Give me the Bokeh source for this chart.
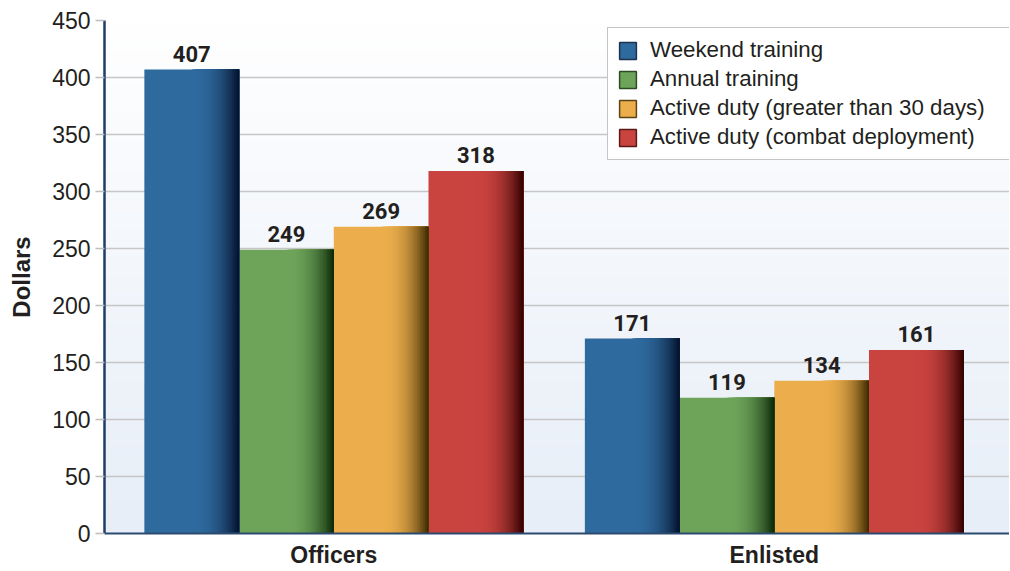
import numpy as np
from bokeh.plotting import figure
from bokeh.models import (ColumnDataSource, FixedTicker, Range1d, Legend, LegendItem, LabelSet)
from bokeh.core.properties import value
from bokeh.embed import file_html
from bokeh.resources import INLINE

# ---------------- data ----------------
categories = ["Officers", "Enlisted"]
series = ["Weekend training", "Annual training",
          "Active duty (greater than 30 days)", "Active duty (combat deployment)"]
weekend = [407, 171]
annual = [249, 119]
active30 = [269, 134]
combat = [318, 161]
values = [weekend, annual, active30, combat]
y_ticks = [0, 50, 100, 150, 200, 250, 300, 350, 400, 450]

base_colors = ["#2f6a9e", "#6ea45a", "#ecae4c", "#c9433f"]
dark_colors = ["#03102a", "#0a2606", "#3a2800", "#300000"]
legend_line = ["#1c3350", "#2e4a24", "#5a4515", "#5a1a18"]

# ---------------- figure ----------------
X0, X1 = -0.0205, 2.034
p = figure(width=1009, height=570, output_backend="svg", toolbar_location=None,
           x_range=Range1d(X0, X1), y_range=Range1d(0, 450),
           min_border_left=104, min_border_right=0, min_border_top=20, min_border_bottom=37)
p.outline_line_color = None
p.background_fill_color = "#ffffff"
p.border_fill_color = "#ffffff"

# background vertical gradient (white -> pale blue)
N = 200
img = np.empty((N, 1), dtype=np.uint32)
view = img.view(dtype=np.uint8).reshape((N, 1, 4))
top_c = np.array([255, 255, 255])
bot_c = np.array([231, 238, 248])
for i in range(N):
    t = i / (N - 1)  # 0 bottom -> 1 top
    c = bot_c + (top_c - bot_c) * t
    view[i, 0, 0:3] = c.astype(np.uint8)
    view[i, 0, 3] = 255
p.image_rgba(image=[img], x=X0, y=0, dw=X1 - X0, dh=450, level="image")

# ---------------- bars ----------------
w = 0.215
offsets = [-1.5 * w, -0.5 * w, 0.5 * w, 1.5 * w]
centers = [i + 0.5 for i in range(len(categories))]

def hex2rgb(h):
    h = h.lstrip("#")
    return np.array([int(h[k:k + 2], 16) for k in (0, 2, 4)], dtype=float)

def rgb2hex(c):
    c = np.clip(np.round(c), 0, 255).astype(int)
    return "#%02x%02x%02x" % tuple(c)

bx, btop, bcol = [], [], []
sx, stop, swid, scol = [], [], [], []
NS = 28
for s, vals in enumerate(values):
    b = hex2rgb(base_colors[s])
    d = hex2rgb(dark_colors[s])
    for ci, v in enumerate(vals):
        xc = centers[ci] + offsets[s]
        bx.append(xc); btop.append(v); bcol.append(base_colors[s])
        left = xc - w / 2
        right = xc + w / 2
        g0 = left + 0.5 * w
        sw = (right - g0) / NS
        for k in range(NS):
            st = g0 + k * sw
            t = (k + 0.5) / NS
            f = t ** 2.3
            sx.append((st + right) / 2)
            swid.append(right - st)
            stop.append(v)
            scol.append(rgb2hex(b + (d - b) * f))

bars = ColumnDataSource(dict(x=bx, top=btop, color=bcol))
strips = ColumnDataSource(dict(x=sx, top=stop, width=swid, color=scol))
p.vbar(x="x", top="top", width=w, bottom=0, source=bars, fill_color="color", line_color=None)
p.vbar(x="x", top="top", width="width", bottom=0, source=strips, fill_color="color", line_color=None)

# value labels
lab_src = ColumnDataSource(dict(x=bx, y=btop, text=[str(v) for v in btop]))
labels = LabelSet(x="x", y="y", text="text", source=lab_src, text_align="center",
                  text_baseline="alphabetic", y_offset=8, text_font=value("Roboto"),
                  text_font_style="bold", text_font_size="22px", text_color="#231f20")
p.add_layout(labels)

# legend (swatch renderers, not drawn in the plot: NaN position)
items = []
for s in range(4):
    r = p.rect(x=[np.nan], y=[np.nan], width=1, height=1, fill_color=base_colors[s],
               line_color=legend_line[s], line_width=1.5)
    items.append(LegendItem(label=series[s], renderers=[r]))
legend = Legend(items=items, location=(503, 373), orientation="vertical")
legend.label_text_font = "Liberation Sans"
legend.label_text_font_size = "22.3px"
legend.label_text_color = "#231f20"
legend.glyph_width = 21
legend.glyph_height = 21
legend.label_standoff = 12
legend.label_width = 350
legend.spacing = 3
legend.padding = 9
legend.margin = 0
legend.border_line_color = "#8c8c8c"
legend.border_line_width = 1.5
legend.background_fill_color = "white"
legend.background_fill_alpha = 1
p.add_layout(legend)

# ---------------- axes ----------------
p.yaxis.ticker = FixedTicker(ticks=y_ticks)
p.yaxis.axis_line_color = "#1f3d68"
p.yaxis.axis_line_width = 2.5
p.yaxis.major_tick_line_color = "#bdbdbd"
p.yaxis.major_tick_line_width = 1.5
p.yaxis.major_tick_out = 9
p.yaxis.major_tick_in = 0
p.yaxis.minor_tick_line_color = None
p.yaxis.minor_tick_out = 0
p.yaxis.minor_tick_in = 0
p.yaxis.major_label_text_font = "Liberation Sans"
p.yaxis.major_label_text_font_size = "23px"
p.yaxis.major_label_text_color = "#231f20"
p.yaxis.major_label_standoff = 5
p.yaxis.axis_label = "Dollars"
p.yaxis.axis_label_text_font = "Liberation Sans"
p.yaxis.axis_label_text_font_style = "bold"
p.yaxis.axis_label_text_font_size = "24px"
p.yaxis.axis_label_text_color = "#231f20"
p.yaxis.axis_label_standoff = 14

p.xaxis.ticker = FixedTicker(ticks=centers)
p.xaxis.major_label_overrides = {c: n for c, n in zip(centers, categories)}
p.xaxis.axis_line_color = "#2c4a6e"
p.xaxis.axis_line_width = 2
p.xaxis.major_tick_line_color = None
p.xaxis.major_tick_out = 0
p.xaxis.major_tick_in = 0
p.xaxis.minor_tick_line_color = None
p.xaxis.minor_tick_out = 0
p.xaxis.minor_tick_in = 0
p.xaxis.major_label_text_font = "Liberation Sans"
p.xaxis.major_label_text_font_style = "bold"
p.xaxis.major_label_text_font_size = "23px"
p.xaxis.major_label_text_color = "#231f20"
p.xaxis.major_label_standoff = 8

p.xgrid.grid_line_color = None
p.ygrid.grid_line_color = "#c6c6c6"
p.ygrid.grid_line_width = 1.5

open("out.html", "w").write(file_html(p, INLINE))
